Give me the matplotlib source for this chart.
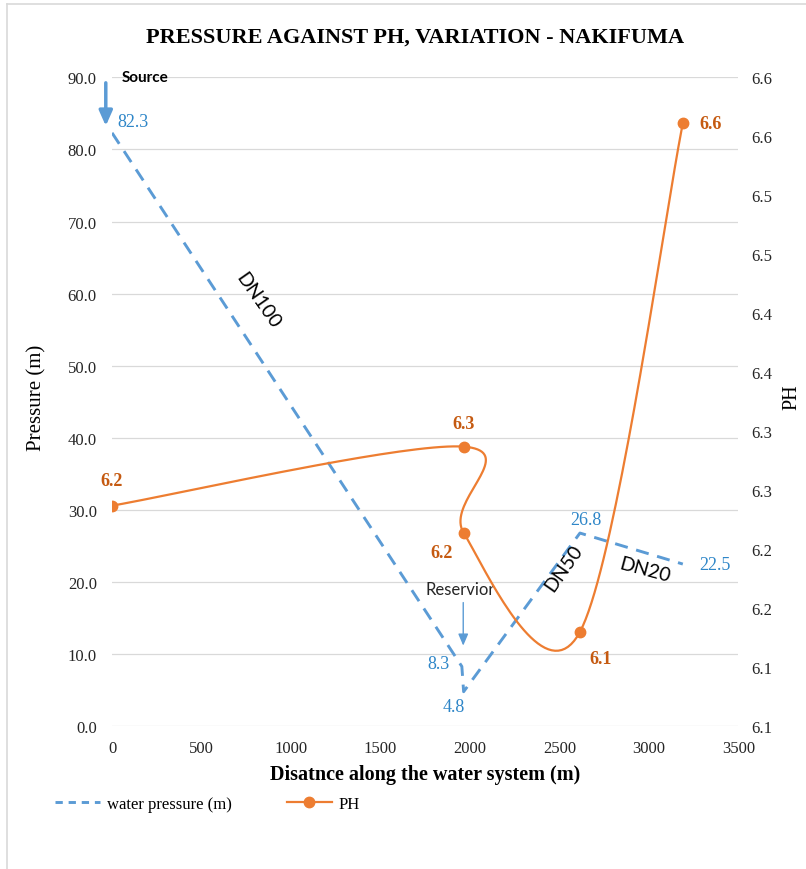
import numpy as np
import matplotlib
matplotlib.use("Agg")
import matplotlib.pyplot as plt
import matplotlib.transforms as mtransforms
from matplotlib.lines import Line2D

# =========================
# Data
# =========================

pressure_x = [0, 1955, 1965, 2615, 3190]
pressure = [82.3, 8.3, 4.8, 26.8, 22.5]

ph_x = [0, 1965, 1965, 2615, 3190]
ph = [6.237, 6.287, 6.214, 6.130, 6.561]
ph_labels = ["6.2", "6.3", "6.2", "6.1", "6.6"]

x_ticks = [0, 500, 1000, 1500, 2000, 2500, 3000, 3500]
p_ticks = [0, 10, 20, 30, 40, 50, 60, 70, 80, 90]
ph_ticks = [6.05, 6.10, 6.15, 6.20, 6.25, 6.30, 6.35, 6.40, 6.45, 6.50, 6.55, 6.60]
ph_tick_labels = ["6.1", "6.1", "6.2", "6.2", "6.3", "6.3",
                  "6.4", "6.4", "6.5", "6.5", "6.6", "6.6"]

# label offsets (points) for the data labels
p_offsets = [(4, 8), (-9, 2), (-7, -11), (4, 10), (12, 0)]
p_ha = ["left", "right", "center", "center", "left"]
ph_offsets = [(0, 18), (0, 17), (-16, -14), (15, -19), (12, 0)]
ph_ha = ["center", "center", "center", "center", "left"]

blue = "#5B9BD5"
blue_txt = "#2E86C8"
orange = "#ED7D31"
orange_txt = "#C55A11"
serif = "Liberation Serif"
sans = "Lato"

# =========================
# Figure
# =========================

fig = plt.figure(figsize=(8.06, 8.7), dpi=100)
fig.subplots_adjust(left=0.139, right=0.916, top=0.910, bottom=0.164)
ax = fig.add_subplot(111)
ax2 = ax.twinx()

ax.set_xlim(0, 3500)
ax.set_ylim(0, 90)
ax2.set_ylim(6.05, 6.60)

for a in (ax, ax2):
    for s in a.spines.values():
        s.set_visible(False)

ax.set_yticks(p_ticks)
ax.set_yticklabels([f"{v:.1f}" for v in p_ticks])
ax.set_xticks(x_ticks)
ax.set_xticklabels([str(v) for v in x_ticks])
ax2.set_yticks(ph_ticks)
ax2.set_yticklabels(ph_tick_labels)

ax.tick_params(axis="both", length=0, labelsize=12, labelcolor="#262626")
ax.tick_params(axis="x", pad=10)
ax.tick_params(axis="y", pad=11)
ax2.tick_params(axis="y", length=0, labelsize=12, labelcolor="#262626", pad=9)
for lab in ax.get_xticklabels() + ax.get_yticklabels() + ax2.get_yticklabels():
    lab.set_family(serif)

ax.grid(axis="y", color="#D9D9D9", linewidth=0.9)
ax.grid(axis="x", visible=False)
ax.set_axisbelow(True)

# =========================
# Pressure line
# =========================

ax.plot(pressure_x, pressure, color=blue, linewidth=2.1,
        dashes=(4.5, 3), zorder=3)

for i in range(len(pressure)):
    ax.annotate(f"{pressure[i]:.1f}", (pressure_x[i], pressure[i]),
                xytext=p_offsets[i], textcoords="offset points",
                ha=p_ha[i], va="center", color=blue_txt,
                fontsize=13, family=serif)

# =========================
# PH smoothed line (bezier like a spreadsheet smooth line)
# =========================

def smooth_curve(axis, xs, ys, n=40):
    pts = axis.transData.transform(np.column_stack([xs, ys]))
    m = len(pts)
    out = []
    for i in range(m - 1):
        p0 = pts[max(i - 1, 0)]
        p1 = pts[i]
        p2 = pts[i + 1]
        p3 = pts[min(i + 2, m - 1)]
        c1 = p1 + (p2 - p0) / 6.0
        c2 = p2 - (p3 - p1) / 6.0
        t = np.linspace(0, 1, n)[:, None]
        seg = ((1 - t) ** 3 * p1 + 3 * (1 - t) ** 2 * t * c1
               + 3 * (1 - t) * t ** 2 * c2 + t ** 3 * p2)
        out.append(seg if i == 0 else seg[1:])
    curve = np.vstack(out)
    return axis.transData.inverted().transform(curve)

curve = smooth_curve(ax2, ph_x, ph)
ax2.plot(curve[:, 0], curve[:, 1], color=orange, linewidth=1.6, zorder=4)
ax2.plot(ph_x, ph, "o", color=orange, markersize=7.5, zorder=5)

for i in range(len(ph)):
    ax2.annotate(ph_labels[i], (ph_x[i], ph[i]),
                 xytext=ph_offsets[i], textcoords="offset points",
                 ha=ph_ha[i], va="center", color=orange_txt,
                 fontsize=13, fontweight="bold", family=serif)

# =========================
# Notes on the chart
# =========================

def off(dx, dy):
    return mtransforms.offset_copy(ax.transData, fig=fig, x=dx, y=dy,
                                   units="points")

# source
src = (pressure_x[0], pressure[0])
ax.annotate("", xy=src, xycoords=off(-4.5, 5), xytext=src,
            textcoords=off(-4.5, 36),
            arrowprops=dict(arrowstyle="-|>,head_width=0.4,head_length=0.9",
                            color=blue, lw=2.5, shrinkA=0, shrinkB=0))
ax.annotate("Source", src, xytext=(7, 40), textcoords="offset points",
            ha="left", va="center", fontsize=11, fontweight="bold",
            family=sans, color="black", annotation_clip=False)

# reservoir
res = (pressure_x[1], pressure[1])
ax.annotate("", xy=res, xycoords=off(1, 15), xytext=res,
            textcoords=off(1, 46),
            arrowprops=dict(arrowstyle="-|>,head_width=0.3,head_length=0.7",
                            color=blue, lw=1.0, shrinkA=0, shrinkB=0))
ax.annotate("Reservior", res, xytext=(-1, 56), textcoords="offset points",
            ha="center", va="center", fontsize=12, family=sans,
            color="#262626")

ax.text(816, 59.2, "DN100", rotation=-55, ha="center", va="center",
        fontsize=14, family=sans, color="black")
ax.text(2522, 22.1, "DN50", rotation=55, ha="center", va="center",
        fontsize=14, family=sans, color="black")
ax.text(2980, 21.8, "DN20", rotation=-15, ha="center", va="center",
        fontsize=14, family=sans, color="black")

# =========================
# Titles and labels
# =========================

fig.text(0.515, 1 - 38 / 870, "PRESSURE AGAINST PH, VARIATION - NAKIFUMA",
         ha="center", va="center", fontsize=16, fontweight="bold",
         family=serif)

ax.set_xlabel("Disatnce along the water system (m)", fontsize=14.5,
              fontweight="bold", family=serif)
ax.xaxis.set_label_coords(0.5, -0.058)
ax.set_ylabel("Pressure (m)", fontsize=15, family=serif)
ax.yaxis.set_label_coords(-0.104, 0.508)
ax2.set_ylabel("PH", fontsize=14.5, family=serif)
ax2.yaxis.set_label_coords(1.071, 0.508)

# =========================
# Legend
# =========================

h1 = Line2D([], [], color=blue, linewidth=2.1, dashes=(2.5, 2))
h2 = Line2D([], [], color=orange, linewidth=1.6, marker="o", markersize=7.5)
fig.legend([h1, h2], ["water pressure (m)", "PH"], loc="center left",
           bbox_to_anchor=(0.05, 0.075), ncol=2, frameon=False,
           handlelength=2.7, handletextpad=0.4, columnspacing=3.3,
           prop={"family": serif, "size": 12})

# outer frame lines (top and left)
fig.add_artist(Line2D([7 / 806, 1], [1 - 5 / 870, 1 - 5 / 870],
                      transform=fig.transFigure, color="#D9D9D9", lw=1.2))
fig.add_artist(Line2D([7 / 806, 7 / 806], [0, 1 - 5 / 870],
                      transform=fig.transFigure, color="#D9D9D9", lw=1.2))

fig.savefig("out.png", dpi=100)
